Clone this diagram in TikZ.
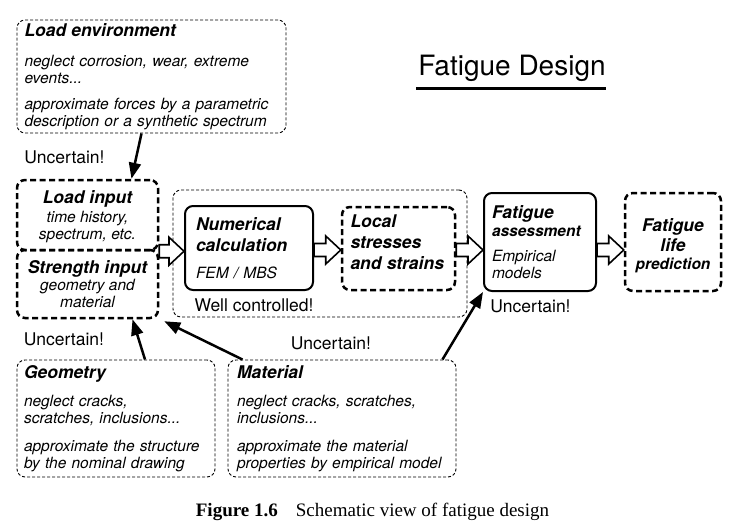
\documentclass[tikz,border=0pt]{standalone}
\usepackage{fontspec}
\setmainfont{TeX Gyre Heros}
\newfontfamily\capfont{Liberation Serif}
\usetikzlibrary{arrows.meta,calc}

% bold heading inside a box
\newcommand\boxhead[1]{{\fontsize{17.5}{17}\selectfont\bfseries #1}}
% hollow block arrow between two boxes, at the height of the first point
\newcommand\fatarrow[2]{%
  \draw[fat] let \p1=(#1), \p2=(#2) in
    (\x1,\y1+6.5pt) -- (\x2-15pt,\y1+6.5pt) -- (\x2-15pt,\y1+14pt) -- (\x2,\y1)
    -- (\x2-15pt,\y1-14pt) -- (\x2-15pt,\y1-6.5pt) -- (\x1,\y1-6.5pt) -- cycle;}

\begin{document}
\begin{tikzpicture}[
    x=1pt, y=-1pt,
    font=\fontsize{15.5}{17}\selectfont\itshape,
    thinbox/.style={draw, rounded corners=8pt, line width=0.9pt,
                    dash pattern=on 3pt off 2pt, inner sep=0pt},
    thickbox/.style={draw, rounded corners=8pt, line width=2.5pt,
                     dash pattern=on 6pt off 3.5pt, inner sep=0pt},
    solidbox/.style={draw, rounded corners=8pt, line width=2pt, inner sep=0pt},
    plain/.style={font=\fontsize{17.5}{20}\selectfont\upshape},
    uarrow/.style={line width=2.5pt, -{Triangle[length=16pt,width=12pt]}},
    fat/.style={draw, fill=white, line width=1.6pt, line join=miter}
]
    \useasboundingbox (0,0) rectangle (748,530);

    % Title
    \node[font=\fontsize{28}{32}\selectfont\upshape, inner sep=0pt] (title) at (512,68) {Fatigue Design};
    \draw[line width=3pt] ([xshift=-2pt,yshift=-7pt]title.south west) -- ([yshift=-7pt]title.south east);

    % Well controlled group
    \node[thinbox, minimum width=294pt, minimum height=127pt] (ctrl) at (320,253.5) {};

    % Boxes
    \node[thinbox, text width=254pt, minimum width=269pt, minimum height=113pt] (lenv) at (151.5,76.5)
        {\boxhead{Load environment}\\[13pt]
         neglect corrosion, wear, extreme\\events...\\[9pt]
         approximate forces by a parametric\\description or a synthetic spectrum};

    \node[thickbox, align=center, minimum width=141pt, minimum height=70pt] (lin) at (87.5,215)
        {\rule{0pt}{17pt}\boxhead{Load input}\\[2pt]time history,\\spectrum, etc.};
    \node[thickbox, align=center, minimum width=141pt, minimum height=68pt] (sin) at (87.5,284)
        {\boxhead{Strength input}\\geometry and\\material};

    \node[solidbox, text width=106pt, minimum width=128pt, minimum height=84pt] (num) at (249,248)
        {\boxhead{Numerical}\\[4pt]\boxhead{calculation}\\[10pt]FEM / MBS};
    \node[thickbox, text width=96pt, minimum width=113pt, minimum height=83pt] (loc) at (398.5,248.5)
        {\boxhead{Local}\\[4pt]\boxhead{stresses}\\[4pt]\boxhead{and strains}\rule[-12pt]{0pt}{12pt}};
    \node[solidbox, text width=96pt, minimum width=112pt, minimum height=98pt] (fass) at (540,242)
        {\boxhead{Fatigue}\\[1pt]\textbf{assessment}\\[8pt]Empirical\\models};
    \node[thickbox, align=center, minimum width=96pt, minimum height=98pt] (flp) at (673,242)
        {\rule{0pt}{21pt}\boxhead{Fatigue}\\[3pt]\boxhead{life}\\[1pt]\textbf{prediction}};

    \node[thinbox, text width=184pt, minimum width=198pt, minimum height=117pt] (geo) at (116,418.5)
        {\boxhead{Geometry}\\[11pt]
         neglect cracks,\\scratches, inclusions...\\[11pt]
         approximate the structure\\by the nominal drawing};
    \node[thinbox, text width=210pt, minimum width=228pt, minimum height=117pt] (mat) at (342,418.5)
        {\boxhead{Material}\\[11pt]
         neglect cracks, scratches,\\inclusions...\\[11pt]
         approximate the material\\properties by empirical model};

    % Labels
    \node[plain] (unc1) at (64.5,157) {Uncertain!};
    \node[plain] (unc2) at (64,339) {Uncertain!};
    \node[plain] (unc3) at (331,343) {Uncertain!};
    \node[plain] (unc4) at (530.5,306) {Uncertain!};
    \node[plain] (well) at (254,305) {Well controlled!};

    % Block arrows
    \fatarrow{lin.south east}{num.west}
    \fatarrow{[yshift=-2pt]num.east}{loc.west}
    \fatarrow{[yshift=-1.5pt]loc.east}{fass.west}
    \fatarrow{[yshift=-8pt]fass.east}{flp.west}

    % Influence arrows
    \draw[uarrow] ([xshift=-10pt]lenv.south) -- ([xshift=44pt]lin.north);
    \draw[uarrow] ([xshift=29pt]geo.north) -- ([xshift=45pt]sin.south);
    \draw[uarrow] ([xshift=15pt]mat.north west) -- ([xshift=5pt,yshift=-2pt]sin.south east);
    \draw[uarrow] ([xshift=-14pt]mat.north east) -- (fass.south west);

    % Caption
    \node[font=\capfont\fontsize{19}{22}\selectfont, anchor=base] (cap) at (372.5,516)
        {\textbf{Figure 1.6}\hspace{18pt}Schematic view of fatigue design};

\end{tikzpicture}
\end{document}
